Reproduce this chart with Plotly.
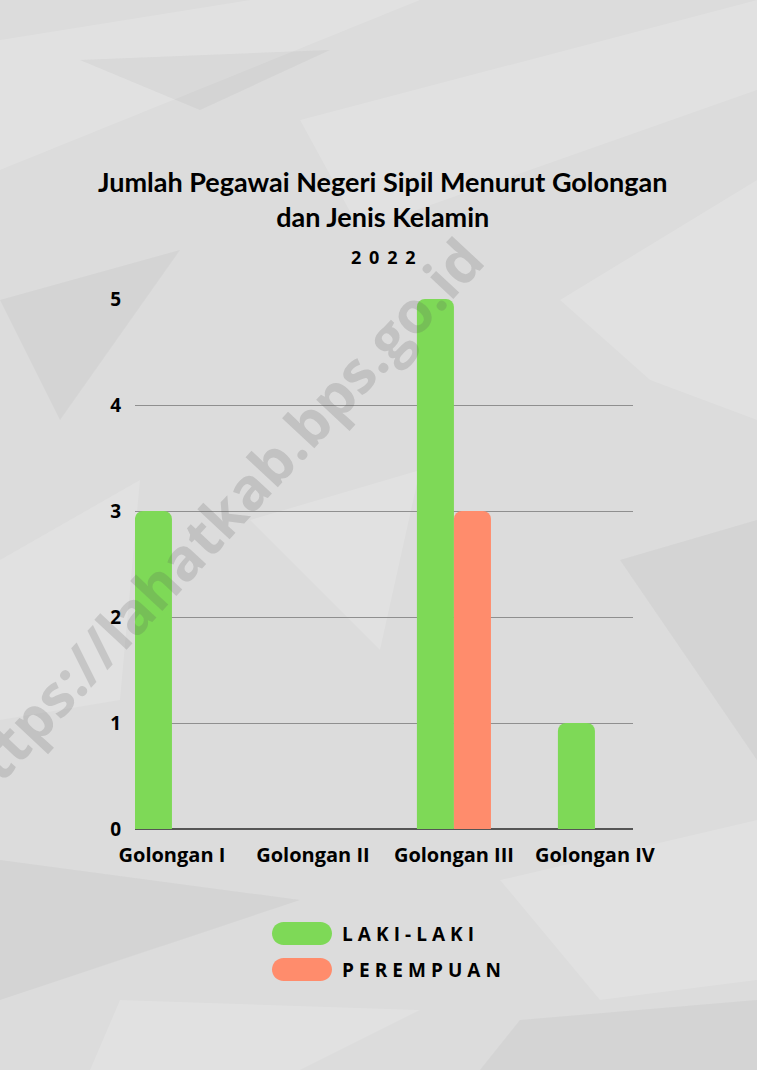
import plotly.graph_objects as go

# ---- data ----
categories = ["Golongan I", "Golongan II", "Golongan III", "Golongan IV"]
laki_laki = [3, 0, 5, 1]
perempuan = [0, 0, 3, 0]
series_names = ["LAKI-LAKI", "PEREMPUAN"]
title_lines = ["Jumlah Pegawai Negeri Sipil Menurut Golongan", "dan Jenis Kelamin"]
subtitle = "2022"
y_ticks = [0, 1, 2, 3, 4, 5]
watermark = "https://lahatkab.bps.go.id"

# ---- style ----
W, H = 757, 1070
L, R, T, B = 135, 633, 299, 829
GREEN = "#7ed957"
ORANGE = "#ff8c6c"
BG = "#dcdcdc"
TXT = "#000000"


def px_x(px):
    return (px - L) / (R - L)


def px_y(py):
    return (B - py) / (B - T)


def spaced(s, sep="\u2009"):
    return sep.join(list(s))


fig = go.Figure()
for name, vals, col in [(series_names[0], laki_laki, GREEN), (series_names[1], perempuan, ORANGE)]:
    fig.add_trace(go.Bar(
        x=categories, y=vals, name=name,
        marker=dict(color=col, cornerradius=8, line=dict(width=0)),
        showlegend=False,
        hovertemplate="%{x}: %{y}<extra>" + name + "</extra>",
    ))

shapes = []
annotations = []


def poly(points, color):
    path = "M " + " L ".join(f"{px_x(a):.5f},{px_y(b):.5f}" for a, b in points) + " Z"
    return dict(type="path", xref="paper", yref="paper", path=path,
                fillcolor=color, line=dict(width=0), layer="below")


# faint paper texture (decorative facets)
LIGHT = "rgba(255,255,255,0.15)"
DARK = "rgba(120,120,120,0.07)"
texture = [
    ([(0, 40), (250, 0), (420, 0), (0, 170)], LIGHT),
    ([(300, 120), (757, 0), (757, 90), (360, 230)], LIGHT),
    ([(80, 60), (330, 50), (200, 110)], DARK),
    ([(0, 300), (180, 250), (60, 420)], DARK),
    ([(560, 300), (757, 180), (757, 420), (650, 380)], LIGHT),
    ([(0, 560), (140, 480), (120, 700), (0, 720)], LIGHT),
    ([(250, 520), (420, 470), (380, 650)], LIGHT),
    ([(620, 560), (757, 520), (757, 760)], DARK),
    ([(0, 860), (300, 900), (0, 1000)], DARK),
    ([(500, 880), (757, 820), (757, 980), (600, 1000)], LIGHT),
    ([(120, 1000), (420, 1010), (300, 1070), (90, 1070)], LIGHT),
    ([(520, 1020), (757, 1000), (757, 1070), (480, 1070)], DARK),
]
for pts, col in texture:
    shapes.append(poly(pts, col))


def pill(x0, y0, x1, y1, color):
    r = (y1 - y0) / 2.0
    k = 0.5523 * r
    pts = [
        ("M", [(x0 + r, y0)]),
        ("L", [(x1 - r, y0)]),
        ("C", [(x1 - r + k, y0), (x1, y0 + r - k), (x1, y0 + r)]),
        ("C", [(x1, y0 + r + k), (x1 - r + k, y1), (x1 - r, y1)]),
        ("L", [(x0 + r, y1)]),
        ("C", [(x0 + r - k, y1), (x0, y0 + r + k), (x0, y0 + r)]),
        ("C", [(x0, y0 + r - k), (x0 + r - k, y0), (x0 + r, y0)]),
    ]
    path = ""
    for cmd, ps in pts:
        path += cmd + " " + " ".join(f"{px_x(a):.5f},{px_y(b):.5f}" for a, b in ps) + " "
    path += "Z"
    return dict(type="path", xref="paper", yref="paper", path=path,
                fillcolor=color, line=dict(width=0), layer="above")


# watermark (drawn first, under other texts)
annotations.append(dict(
    text="<b>" + watermark + "</b>", xref="paper", yref="paper",
    x=px_x(214), y=px_y(522), xanchor="center", yanchor="middle", showarrow=False,
    textangle=-47, font=dict(family="Open Sans", size=58, color="rgba(90,90,90,0.2)"),
))

legend_rows = [(series_names[0], GREEN, 922, 945), (series_names[1], ORANGE, 958, 981)]
for name, col, y0, y1 in legend_rows:
    shapes.append(pill(272, y0, 332, y1, col))
    annotations.append(dict(
        text="<b>" + spaced(name, "\u2009\u200a") + "</b>", xref="paper", yref="paper",
        x=px_x(340), y=px_y((y0 + y1) / 2 + 0.5), xanchor="left", yanchor="middle",
        showarrow=False, font=dict(family="Open Sans", size=19, color=TXT),
    ))

# title
annotations.append(dict(
    text="<b>" + "<br>".join(title_lines) + "</b>", xref="paper", yref="paper",
    x=px_x(382), y=px_y(199), xanchor="center", yanchor="middle", showarrow=False,
    font=dict(family="Lato", size=27, color=TXT, weight=900), align="center",
))
# subtitle
annotations.append(dict(
    text="<b>" + spaced(subtitle, "\u2009\u2009\u200a") + "</b>", xref="paper", yref="paper",
    x=px_x(383), y=px_y(257), xanchor="center", yanchor="middle", showarrow=False,
    font=dict(family="Open Sans", size=18, color=TXT),
))

fig.update_layout(
    width=W, height=H,
    margin=dict(l=L, r=W - R, t=T, b=H - B, pad=0),
    paper_bgcolor=BG, plot_bgcolor="rgba(0,0,0,0)",
    barmode="group", bargap=0.475, bargroupgap=0,
    shapes=shapes, annotations=annotations,
    font=dict(family="Open Sans", color=TXT),
    xaxis=dict(
        range=[-0.262, 3.27], showgrid=False, zeroline=False, showline=False,
        ticks="outside", ticklen=8, tickcolor="rgba(0,0,0,0)",
        tickfont=dict(family="Open Sans", size=20, color=TXT, weight="bold"),
        fixedrange=True,
    ),
    yaxis=dict(
        range=[0, 5], tickvals=y_ticks, showgrid=True, gridcolor="#8f8f8f", gridwidth=1,
        zeroline=True, zerolinecolor="#555555", zerolinewidth=1.5, showline=False,
        ticks="outside", ticklen=9, tickcolor="rgba(0,0,0,0)",
        tickfont=dict(family="Open Sans", size=19, color=TXT, weight="bold"),
        fixedrange=True,
    ),
)

fig.write_html("out.html", config={"displayModeBar": False},
               post_script="document.body.style.margin='0';")
